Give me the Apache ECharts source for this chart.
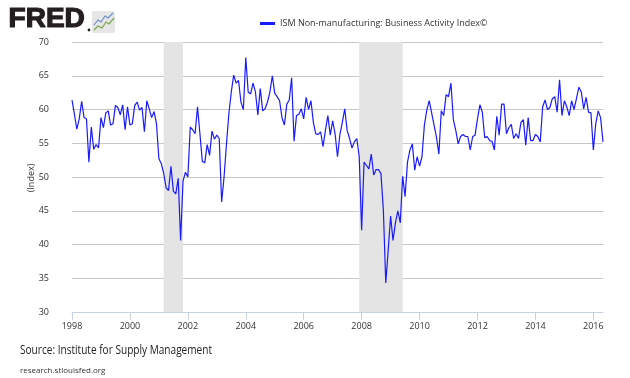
<!DOCTYPE html>
<html>
<head>
<meta charset="utf-8">
<script src="https://cdn.jsdelivr.net/npm/echarts@6/dist/echarts.min.js"></script>
<style>
html,body{margin:0;padding:0;background:#fff;}
#chart{width:630px;height:378px;}
</style>
</head>
<body>
<div id="chart"></div>
<script>
// Monthly values, starting January 1998
var startYear = 1998;
var seriesName = 'ISM Non-manufacturing: Business Activity Index©';
var yAxisTitle = '(Index)';
var values1998_2002 = [
  61.4, 59.3, 57.1, 58.6, 61.2, 58.8, 58.6, 52.2, 57.4, 54.1, 54.8, 54.3,
  58.8, 57.3, 59.5, 59.8, 57.7, 57.9, 60.6, 60.3, 59.2, 60.7, 57.0, 60.4,
  57.7, 57.9, 60.6, 61.1, 59.9, 60.3, 56.7, 61.3, 60.1, 58.8, 59.7, 57.9,
  52.7, 52.0, 50.5, 48.4, 48.0, 51.6, 47.9, 47.5, 49.8, 40.6, 49.4, 50.7,
  50.0, 57.4, 57.0, 56.4, 60.4, 56.4, 52.3, 52.1, 54.8, 53.2, 56.8, 55.6
];
var values2003_2007 = [
  56.2, 55.7, 46.3, 50.0, 54.9, 59.4, 62.6, 65.1, 63.9, 64.3, 61.1, 60.0,
  67.7, 62.6, 62.3, 63.9, 62.6, 59.2, 63.1, 59.8, 60.1, 61.1, 62.6, 65.0,
  62.4, 61.9, 61.3, 58.8, 57.7, 60.8, 61.4, 64.7, 55.3, 59.1, 59.3, 60.1,
  58.6, 61.8, 60.0, 61.3, 58.1, 56.4, 56.3, 56.7, 54.5, 56.9, 59.1, 56.2,
  58.3, 56.4, 53.0, 56.3, 58.1, 60.1, 56.9, 55.7, 54.3, 55.2, 55.7, 53.0
];
var values2008_2012 = [
  42.1, 52.2, 51.7, 51.2, 53.4, 50.3, 51.1, 51.1, 50.5, 45.1, 34.3, 39.1,
  44.2, 40.6, 43.2, 45.0, 43.2, 50.1, 47.1, 52.2, 54.0, 54.9, 51.0, 53.0,
  51.6, 53.0, 57.7, 59.9, 61.3, 59.5, 57.7, 55.9, 53.4, 59.8, 59.1, 62.2,
  61.9, 63.9, 58.5, 56.9, 54.9, 56.0, 56.3, 56.0, 56.0, 54.0, 56.0, 56.2,
  58.6, 60.7, 59.6, 55.8, 56.0, 55.4, 55.3, 54.0, 59.0, 56.2, 60.8, 60.8
];
var values2013_2016 = [
  56.4, 57.3, 57.8, 55.7, 56.4, 55.7, 58.1, 58.5, 54.7, 58.8, 55.4, 55.4,
  56.3, 56.0, 55.2, 60.4, 61.4, 60.0, 60.3, 61.6, 61.9, 59.6, 64.4, 59.1,
  61.3, 60.4, 59.1, 61.3, 60.0, 61.6, 63.3, 62.6, 60.1, 61.8, 59.6, 59.5,
  54.0, 57.9, 59.8, 58.8, 55.2
];
// Recession periods [start month, end month]
var recessions = [['2001-03', '2001-11'], ['2007-12', '2009-06']];
var xTicks = [1998, 2000, 2002, 2004, 2006, 2008, 2010, 2012, 2014, 2016];
var yTicks = [30, 35, 40, 45, 50, 55, 60, 65, 70];

var values = values1998_2002.concat(values2003_2007, values2008_2012, values2013_2016);
function ym(s) { var p = s.split('-'); return +p[0] + (+p[1] - 1) / 12; }
var data = values.map(function (v, i) { return [startYear + i / 12, v]; });
var xMax = startYear + (values.length - 1) / 12;

var chart = echarts.init(document.getElementById('chart'), null, {renderer: 'canvas'});
var font = '"Open Sans", sans-serif';
chart.setOption({
  animation: false,
  backgroundColor: '#ffffff',
  grid: {left: 72, right: 27, top: 42, bottom: 66},
  legend: {
    left: 255, top: 14,
    icon: 'rect', itemWidth: 15, itemHeight: 3, itemGap: 6,
    textStyle: {fontFamily: font, fontSize: 9, color: '#333'},
    data: [seriesName]
  },
  xAxis: {
    type: 'value', min: startYear, max: xMax,
    axisLine: {show: true, lineStyle: {color: '#c6d2e0', width: 1}},
    axisTick: {show: true, length: 8, customValues: xTicks, lineStyle: {color: '#c6d2e0'}},
    axisLabel: {customValues: xTicks, margin: 10, fontFamily: font, fontSize: 9, color: '#333',
      formatter: function (v) { return String(Math.round(v)); }},
    splitLine: {show: false}
  },
  yAxis: {
    type: 'value', min: yTicks[0], max: yTicks[yTicks.length - 1], interval: 5,
    axisLine: {show: false}, axisTick: {show: false},
    axisLabel: {margin: 23, fontFamily: font, fontSize: 9, color: '#333'},
    splitLine: {lineStyle: {color: '#c8c8c8', width: 1}}
  },
  series: [{
    name: seriesName,
    type: 'line',
    data: data,
    showSymbol: false,
    symbol: 'none',
    color: '#1a1aff',
    lineStyle: {color: '#1a1aff', width: 1.2},
    markArea: {
      silent: true,
      itemStyle: {color: '#e4e4e4'},
      data: recessions.map(function (r) { return [{xAxis: ym(r[0])}, {xAxis: ym(r[1])}]; })
    }
  }],
  graphic: [
    {type: 'text', left: 8, top: 5, style: {text: 'FRED', font: 'bold 28px "Liberation Sans", sans-serif', fill: '#231f20', stroke: '#231f20', lineWidth: 1.2}},
    {type: 'circle', shape: {cx: 89, cy: 30, r: 1.4}, style: {fill: '#231f20'}},
    {type: 'rect', shape: {x: 92, y: 11, width: 23, height: 22, r: 2}, style: {fill: '#e6e6e6'}},
    {type: 'polyline', shape: {points: [[94, 25], [98, 20], [101, 22], [105, 16], [108, 18], [113, 13]]}, style: {stroke: '#6d8fc7', lineWidth: 1.2, fill: null}},
    {type: 'polyline', shape: {points: [[94, 30], [98, 26], [102, 28], [106, 22], [109, 24], [114, 18]]}, style: {stroke: '#7ba84c', lineWidth: 1.2, fill: null}},
    {type: 'text', x: 31, y: 178, rotation: Math.PI / 2, style: {text: yAxisTitle, font: '9px "Open Sans", sans-serif', fill: '#333', align: 'center', verticalAlign: 'middle'}},
    {type: 'text', x: 20, y: 345, scaleX: 0.84, style: {text: 'Source: Institute for Supply Management', font: '12px "Open Sans", sans-serif', fill: '#222'}},
    {type: 'text', x: 20, y: 367, style: {text: 'research.stlouisfed.org', font: '8px "Open Sans", sans-serif', fill: '#333'}}
  ]
});
</script>
</body>
</html>
